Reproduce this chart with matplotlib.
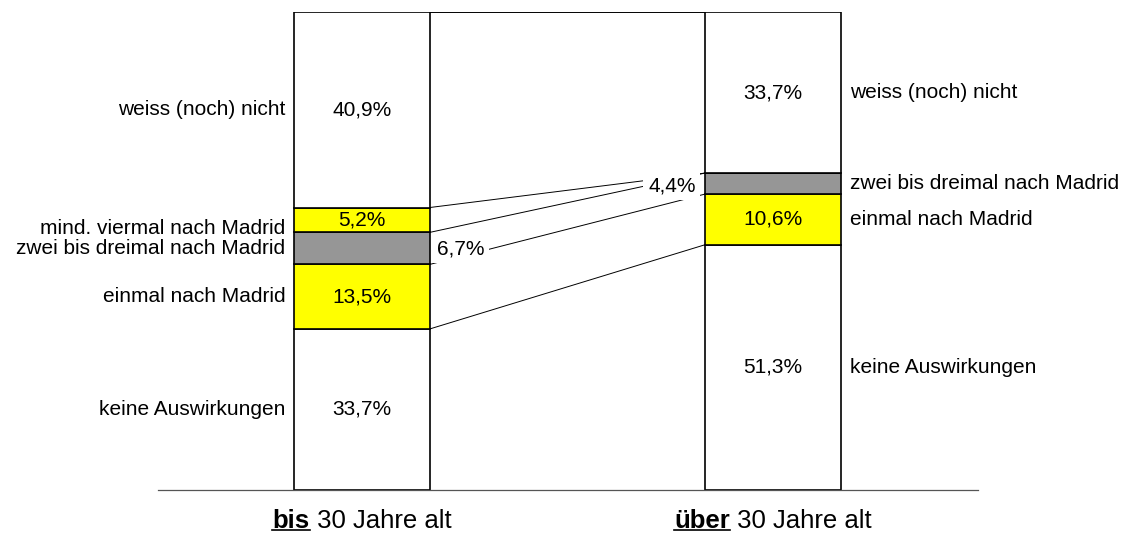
import matplotlib.pyplot as plt
from matplotlib.lines import Line2D
from matplotlib.transforms import IdentityTransform

plt.rcParams['font.family'] = ['Liberation Sans', 'DejaVu Sans']

# Anteile je Altersgruppe, von unten nach oben gestapelt
categories = ["keine Auswirkungen", "einmal nach Madrid", "zwei bis dreimal nach Madrid",
              "mind. viermal nach Madrid", "weiss (noch) nicht"]
bis_30 = [33.7, 13.5, 6.7, 5.2, 40.9]
ueber_30 = [51.3, 10.6, 4.4, 0.0, 33.7]
group_bold = ["bis", "über"]
group_rest = [" 30 Jahre alt", " 30 Jahre alt"]

colors = ["white", "#FFFF00", "#969696", "#FFFF00", "white"]

fig = plt.figure(figsize=(11.3, 5.33), dpi=100)
ax = fig.add_axes([158 / 1130, 43 / 533, 820 / 1130, 478 / 533])
ax.set_xlim(-0.496, 1.499)
ax.set_ylim(0, 100)
ax.axis('off')

x = [0, 1]
width = 0.331
groups = [bis_30, ueber_30]

bottoms = [0.0, 0.0]
tops = [[], []]
for i, cat in enumerate(categories):
    vals = [groups[0][i], groups[1][i]]
    ax.bar(x, vals, width=width, bottom=bottoms, color=colors[i],
           edgecolor='black', linewidth=1.2, zorder=3)
    for g in range(2):
        tops[g].append(bottoms[g] + vals[g])
    bottoms = [bottoms[0] + vals[0], bottoms[1] + vals[1]]

# Grundlinie
ax.plot([-0.496, 1.499], [0, 0], color='#555555', lw=0.9, zorder=4, clip_on=False)

# Serienlinien zwischen den Säulen
for i in range(len(categories)):
    ax.plot([width / 2, 1 - width / 2], [tops[0][i], tops[1][i]],
            color='black', lw=0.7, zorder=2)


def pct(v):
    return f"{v:.1f}".replace('.', ',') + '%'


fs = 15
for g in range(2):
    base = 0.0
    for i, cat in enumerate(categories):
        v = groups[g][i]
        mid = base + v / 2
        base += v
        if v == 0:
            continue
        # Werte in der Säule; die grauen Segmente werden außerhalb beschriftet
        if i != 2:
            ax.text(x[g], mid, pct(v), ha='center', va='center', fontsize=fs, zorder=5)
        label_y = mid - 1.8 if i == 3 else mid
        if g == 0:
            ax.text(x[g] - width / 2 - 0.02, label_y, cat, ha='right', va='center',
                    fontsize=fs, clip_on=False)
        else:
            ax.text(x[g] + width / 2 + 0.022, mid, cat, ha='left', va='center',
                    fontsize=fs, clip_on=False)

box = dict(facecolor='white', edgecolor='none', pad=3.5)
ax.text(0.241, 50.4, pct(bis_30[2]), ha='center', va='center', fontsize=fs,
        bbox=box, zorder=6)
ax.text(0.754, 63.6, pct(ueber_30[2]), ha='center', va='center', fontsize=fs,
        bbox=box, zorder=6)

# Gruppenbeschriftung mit unterstrichenem Fettteil
renderer = fig.canvas.get_renderer()
for g in range(2):
    xc = ax.transData.transform((x[g], 0))[0]
    yb = 5.5
    t1 = fig.text(0, yb, group_bold[g], fontsize=18.5, fontweight='bold',
                  va='baseline', ha='left', transform=IdentityTransform())
    t2 = fig.text(0, yb, group_rest[g], fontsize=18.5, va='baseline', ha='left',
                  transform=IdentityTransform())
    w1 = t1.get_window_extent(renderer).width
    w2 = t2.get_window_extent(renderer).width
    x0 = xc - (w1 + w2) / 2
    t1.set_x(x0)
    t2.set_x(x0 + w1)
    fig.add_artist(Line2D([x0, x0 + w1], [yb - 2.5, yb - 2.5], color='black',
                          lw=1.2, transform=IdentityTransform()))

fig.savefig('out.png', dpi=100)
